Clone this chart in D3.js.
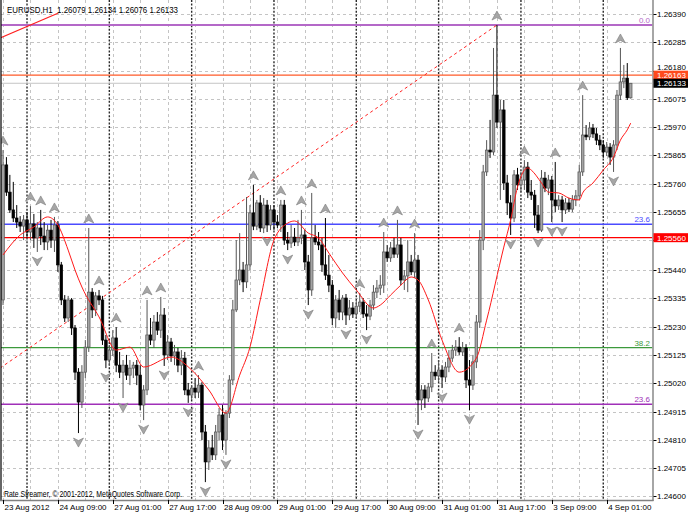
<!DOCTYPE html>
<html><head><meta charset="utf-8">
<script src="https://cdn.jsdelivr.net/npm/d3@7"></script>
<style>
body{margin:0;background:#fff}
svg{display:block}
text{font-family:"Liberation Sans",Arial,sans-serif}
</style>
</head><body>
<svg id="c" width="688" height="516"></svg>
<script>
// ---- data (EURUSD H1, bar index 0 = 23 Aug 2012 17:00) ----
const opens=[1.25329,1.25830,1.25729,1.25663,1.25633,1.25618,1.25603,1.25626,1.25581,1.25611,1.25559,1.25596,1.25566,1.25544,1.25588,1.25551,1.25607,1.25459,1.25329,1.25262,1.25329,1.25225,1.25061,1.24950,1.25061,1.25154,1.25358,1.25292,1.25344,1.25329,1.25180,1.25106,1.25143,1.25188,1.25087,1.25061,1.25087,1.25050,1.25076,1.25087,1.25050,1.24939,1.24995,1.25199,1.25180,1.25247,1.25217,1.25273,1.25125,1.25173,1.25121,1.25136,1.25087,1.25113,1.24995,1.24976,1.25002,1.24987,1.25013,1.24839,1.24728,1.24780,1.24754,1.24839,1.24902,1.24809,1.24909,1.25032,1.25292,1.25403,1.25440,1.25396,1.25459,1.25652,1.25603,1.25689,1.25596,1.25681,1.25607,1.25663,1.25618,1.25607,1.25681,1.25551,1.25540,1.25562,1.25544,1.25559,1.25570,1.25470,1.25366,1.25559,1.25544,1.25533,1.25459,1.25421,1.25384,1.25262,1.25329,1.25284,1.25336,1.25273,1.25299,1.25277,1.25306,1.25321,1.25277,1.25269,1.25310,1.25358,1.25373,1.25384,1.25507,1.25485,1.25522,1.25499,1.25533,1.25403,1.25418,1.25470,1.25433,1.25477,1.24958,1.24995,1.24965,1.25006,1.25061,1.25047,1.25069,1.25043,1.25080,1.25113,1.25143,1.25154,1.25136,1.25151,1.25032,1.25013,1.25099,1.25247,1.25551,1.25804,1.25885,1.25878,1.26089,1.25989,1.26034,1.25763,1.25689,1.25633,1.25793,1.25756,1.25774,1.25822,1.25729,1.25718,1.25644,1.25588,1.25781,1.25744,1.25774,1.25700,1.25678,1.25700,1.25663,1.25689,1.25666,1.25700,1.25715,1.25804,1.25941,1.25934,1.25967,1.25945,1.25922,1.25904,1.25878,1.25896,1.25859,1.25904,1.26089,1.26138,1.26152,1.26079];
const highs=[1.25885,1.25859,1.25793,1.25767,1.25681,1.25640,1.25644,1.25655,1.25677,1.25648,1.25618,1.25663,1.25618,1.25607,1.25626,1.25637,1.25622,1.25470,1.25347,1.25344,1.25336,1.25236,1.25076,1.25087,1.25180,1.25596,1.25373,1.25358,1.25366,1.25344,1.25199,1.25162,1.25217,1.25228,1.25136,1.25106,1.25125,1.25106,1.25099,1.25106,1.25087,1.25013,1.25329,1.25262,1.25273,1.25284,1.25340,1.25299,1.25199,1.25188,1.25162,1.25151,1.25143,1.25136,1.25021,1.25013,1.25039,1.25050,1.25024,1.24865,1.24809,1.24828,1.24865,1.24928,1.24939,1.24920,1.25050,1.25329,1.25551,1.25577,1.25470,1.25711,1.25681,1.25756,1.25700,1.25718,1.25707,1.25700,1.25681,1.25681,1.25644,1.25700,1.25700,1.25581,1.25607,1.25596,1.25626,1.25663,1.25588,1.25496,1.25726,1.25607,1.25581,1.25559,1.25633,1.25496,1.25403,1.25347,1.25366,1.25347,1.25351,1.25329,1.25321,1.25329,1.25355,1.25336,1.25310,1.25329,1.25384,1.25403,1.25421,1.25581,1.25533,1.25544,1.25559,1.25626,1.25559,1.25440,1.25551,1.25496,1.25577,1.25496,1.25013,1.25013,1.25021,1.25132,1.25087,1.25106,1.25087,1.25099,1.25143,1.25162,1.25180,1.25191,1.25173,1.25165,1.25106,1.25125,1.25273,1.25588,1.25830,1.25922,1.25997,1.26264,1.26349,1.26071,1.26071,1.25793,1.25718,1.25811,1.25819,1.25804,1.25848,1.25841,1.25774,1.25737,1.25681,1.25811,1.25804,1.25793,1.25789,1.25841,1.25718,1.25715,1.25707,1.25707,1.25718,1.25737,1.25830,1.26089,1.25978,1.25989,1.25982,1.25967,1.25941,1.25922,1.25915,1.25911,1.25922,1.26108,1.26264,1.26201,1.26208,1.26134];
const lows=[1.25310,1.25715,1.25652,1.25618,1.25596,1.25581,1.25551,1.25559,1.25551,1.25522,1.25507,1.25533,1.25514,1.25514,1.25522,1.25507,1.25433,1.25310,1.25247,1.25247,1.25199,1.25032,1.24835,1.24928,1.25039,1.25136,1.25262,1.25269,1.25310,1.25162,1.25076,1.25084,1.25121,1.25061,1.25039,1.24965,1.25032,1.25013,1.25039,1.25013,1.24920,1.24883,1.24976,1.25162,1.25151,1.25199,1.25188,1.25084,1.25106,1.25099,1.25087,1.25061,1.25050,1.24976,1.24947,1.24958,1.24965,1.24965,1.24809,1.24653,1.24698,1.24735,1.24735,1.24809,1.24772,1.24754,1.24891,1.25013,1.25284,1.25384,1.25358,1.25373,1.25440,1.25588,1.25588,1.25581,1.25577,1.25581,1.25588,1.25588,1.25596,1.25581,1.25533,1.25514,1.25522,1.25529,1.25529,1.25536,1.25440,1.25310,1.25344,1.25533,1.25514,1.25433,1.25403,1.25358,1.25236,1.25225,1.25254,1.25254,1.25236,1.25254,1.25262,1.25262,1.25284,1.25262,1.25217,1.25254,1.25292,1.25336,1.25347,1.25355,1.25470,1.25470,1.25485,1.25485,1.25384,1.25366,1.25358,1.25421,1.25410,1.24865,1.24920,1.24928,1.24950,1.24987,1.25032,1.25024,1.25002,1.25024,1.25061,1.25099,1.25121,1.25125,1.25121,1.25002,1.24920,1.24995,1.25076,1.25225,1.25514,1.25789,1.25856,1.25867,1.25967,1.25700,1.25737,1.25644,1.25570,1.25618,1.25737,1.25729,1.25737,1.25707,1.25700,1.25596,1.25577,1.25581,1.25729,1.25718,1.25618,1.25655,1.25663,1.25618,1.25648,1.25655,1.25655,1.25677,1.25700,1.25789,1.25922,1.25922,1.25930,1.25904,1.25885,1.25856,1.25863,1.25830,1.25804,1.25885,1.26071,1.26115,1.26071,1.26076];
const closes=[1.25830,1.25729,1.25663,1.25633,1.25618,1.25603,1.25626,1.25581,1.25611,1.25559,1.25596,1.25566,1.25544,1.25588,1.25551,1.25607,1.25459,1.25329,1.25262,1.25329,1.25225,1.25061,1.24950,1.25061,1.25154,1.25358,1.25292,1.25344,1.25329,1.25180,1.25106,1.25143,1.25188,1.25087,1.25061,1.25087,1.25050,1.25076,1.25087,1.25050,1.24939,1.24995,1.25199,1.25180,1.25247,1.25217,1.25273,1.25125,1.25173,1.25121,1.25136,1.25087,1.25113,1.24995,1.24976,1.25002,1.24987,1.25013,1.24839,1.24728,1.24780,1.24754,1.24839,1.24902,1.24809,1.24909,1.25032,1.25292,1.25403,1.25440,1.25396,1.25459,1.25652,1.25603,1.25689,1.25596,1.25681,1.25607,1.25663,1.25618,1.25607,1.25681,1.25551,1.25540,1.25562,1.25544,1.25559,1.25570,1.25470,1.25366,1.25559,1.25544,1.25533,1.25459,1.25421,1.25384,1.25262,1.25329,1.25284,1.25336,1.25273,1.25299,1.25277,1.25306,1.25321,1.25277,1.25269,1.25310,1.25358,1.25373,1.25384,1.25507,1.25485,1.25522,1.25499,1.25533,1.25403,1.25418,1.25470,1.25433,1.25477,1.24958,1.24995,1.24965,1.25006,1.25061,1.25047,1.25069,1.25043,1.25080,1.25113,1.25143,1.25154,1.25136,1.25151,1.25032,1.25013,1.25099,1.25247,1.25551,1.25804,1.25885,1.25878,1.26089,1.25989,1.26034,1.25763,1.25689,1.25633,1.25793,1.25756,1.25774,1.25822,1.25729,1.25718,1.25644,1.25588,1.25781,1.25744,1.25774,1.25700,1.25678,1.25700,1.25663,1.25689,1.25666,1.25700,1.25715,1.25804,1.25941,1.25934,1.25967,1.25945,1.25922,1.25904,1.25878,1.25896,1.25859,1.25904,1.26089,1.26138,1.26152,1.26079,1.26133];

// moving average samples (bar index, value)
const maIdx=[0,5,9,13,16,19,21,23,28,33,37,41,49,55,60,65,69,72,75,79,83,85,89,92,95,99,103,108,110,113,116,119,121,124,128,133,138,141,146,148,150,153,154,157,159,162,165,168,169,172,175,178,180,182,183];
const maVal=[1.25496,1.25570,1.25600,1.25637,1.25607,1.25514,1.25440,1.25377,1.25266,1.25143,1.25154,1.25080,1.25117,1.25069,1.24995,1.24909,1.25050,1.25154,1.25329,1.25551,1.25614,1.25622,1.25577,1.25559,1.25503,1.25429,1.25366,1.25299,1.25310,1.25347,1.25384,1.25414,1.25403,1.25329,1.25180,1.25061,1.25113,1.25254,1.25525,1.25626,1.25748,1.25819,1.25811,1.25763,1.25729,1.25726,1.25707,1.25700,1.25726,1.25763,1.25811,1.25859,1.25922,1.25960,1.25985];

// fractals
const fractalUpIdx=[0,8,11,15,25,28,33,42,46,57,73,81,87,90,94,104,111,115,120,125,133,144,152,161,169,180];
const fractalDownIdx=[10,22,30,35,41,47,54,59,65,77,83,89,100,106,121,128,136,148,156,160,163,178];

// price axis ticks ("" = hidden behind a price box)
const priceTicks=[1.26390,1.26285,1.26180,1.26075,1.25970,1.25865,1.25760,1.25655,1.25550,1.25440,1.25335,1.25230,1.25125,1.25020,1.24915,1.24810,1.24705,1.24600];
const priceTickLabels=["1.26390","1.26285","1.26180","1.26075","1.25970","1.25865","1.25760","1.25655","","1.25440","1.25335","1.25230","1.25125","1.25020","1.24915","1.24810","1.24705","1.24600"];

// time axis
const timeIdx=[0,16,32,48,64,80,96,112,128,144,160,176];
const timeLabels=["23 Aug 2012","24 Aug 09:00","27 Aug 01:00","27 Aug 17:00","28 Aug 09:00","29 Aug 01:00","29 Aug 17:00","30 Aug 09:00","31 Aug 01:00","31 Aug 17:00","3 Sep 09:00","4 Sep 01:00"];
const daySepIdx=[7,31,55,79,103,127,151,175];

// horizontal objects
const hLevels=[1.26349,1.26163,1.26133,1.25610,1.25560,1.25152,1.24942];
const hNames=["0.0","","","23.6","","38.2","23.6"];
const hColors=["#b468c8","#ff5a28","#c4c4c4","#4b4bff","#ff0000","#3c9a3c","#a030b8"];
const hWidths=[2,1.2,1,1.6,1.2,1.2,1.6];
const boxLevels=[1.26163,1.26133,1.25560];
const boxLabels=["1.26163","1.26133","1.25560"];
const boxColors=["#ff4a1c","#000000","#ff0000"];

// trend lines (bar index, price)
const dashTrendIdx=[-0.875,144];
const dashTrendPrice=[1.25076,1.26349];
const solidTrendIdx=[-0.875,16];
const solidTrendPrice=[1.26301,1.26393];

const headerText="EURUSD,H1  1.26079 1.26134 1.26076 1.26133";
const copyText="Rate Streamer, \u00a9 2001-2012, MetaQuotes Software Corp.";

// ---- drawing ----
const W=688,H=516, PR=652.5, PB=500;
const x=d3.scaleLinear().domain([0,183]).range([3,630.7]);
const y=d3.scaleLinear().domain([1.24600,1.26390]).range([496.4,14]);
const svg=d3.select('#c');
svg.append('rect').attr('width',W).attr('height',H).attr('fill','#fff');
svg.append('clipPath').attr('id','clip').append('rect').attr('x',1).attr('y',0).attr('width',PR-1).attr('height',PB);
const g=svg.append('g').attr('clip-path','url(#clip)');

// grid
g.selectAll('line.hg').data(priceTicks).join('line')
 .attr('x1',1).attr('x2',PR).attr('y1',d=>Math.round(y(d))+0.5).attr('y2',d=>Math.round(y(d))+0.5)
 .attr('stroke','#c4c4c4').attr('stroke-dasharray','3,3').attr('stroke-width',1);
g.selectAll('line.vg').data(d3.range(0,184,8)).join('line')
 .attr('x1',d=>Math.round(x(d))+0.5).attr('x2',d=>Math.round(x(d))+0.5).attr('y1',0).attr('y2',PB)
 .attr('stroke','#c4c4c4').attr('stroke-dasharray','3,3').attr('stroke-width',1);
g.selectAll('line.ds').data(daySepIdx).join('line')
 .attr('x1',d=>x(d)).attr('x2',d=>x(d)).attr('y1',0).attr('y2',PB)
 .attr('stroke','#2a2a2a').attr('stroke-dasharray','2,1.6').attr('stroke-width',1.4);

// horizontal lines
g.selectAll('line.hl').data(hLevels).join('line')
 .attr('x1',1).attr('x2',PR).attr('y1',d=>y(d)).attr('y2',d=>y(d))
 .attr('stroke',(d,i)=>hColors[i]).attr('stroke-width',(d,i)=>hWidths[i]);
g.selectAll('text.hn').data(hLevels).join('text')
 .attr('x',650).attr('y',d=>y(d)-2).attr('text-anchor','end')
 .attr('font-size',8).attr('fill',(d,i)=>hColors[i]).text((d,i)=>hNames[i]);

// trend lines
const tl=d3.line().x(d=>x(d[0])).y(d=>y(d[1]));
g.append('path').attr('d',tl(d3.zip(dashTrendIdx,dashTrendPrice)))
 .attr('stroke','#ff2020').attr('stroke-width',1).attr('stroke-dasharray','3,3').attr('fill','none');
g.append('path').attr('d',tl(d3.zip(solidTrendIdx,solidTrendPrice)))
 .attr('stroke','#ff2020').attr('stroke-width',1.2).attr('fill','none');

// candles
const bars=d3.range(opens.length).map(i=>({i,o:opens[i],h:highs[i],l:lows[i],c:closes[i]}));
const bw=2.6;
const cg=g.append('g');
cg.selectAll('line.w').data(bars).join('line')
 .attr('x1',d=>x(d.i)).attr('x2',d=>x(d.i)).attr('y1',d=>y(d.h)).attr('y2',d=>y(d.l))
 .attr('stroke',d=>d.c>=d.o?'#555':'#000').attr('stroke-width',1);
cg.selectAll('rect.b').data(bars).join('rect')
 .attr('x',d=>x(d.i)-bw/2).attr('width',bw)
 .attr('y',d=>y(Math.max(d.o,d.c))).attr('height',d=>Math.max(1,Math.abs(y(d.o)-y(d.c))))
 .attr('fill',d=>d.c>=d.o?'#a4a4a4':'#000').attr('stroke',d=>d.c>=d.o?'#555':'#000').attr('stroke-width',0.7);

// MA
g.append('path').attr('d',d3.line().x(d=>x(d[0])).y(d=>y(d[1])).curve(d3.curveMonotoneX)(d3.zip(maIdx,maVal)))
 .attr('stroke','#ff1a1a').attr('stroke-width',1).attr('fill','none');

// fractals
const upPath="M0,-5 L5,4 L0,1.5 L-5,4 Z", dnPath="M0,5 L5,-4 L0,-1.5 L-5,-4 Z";
g.selectAll('path.fu').data(fractalUpIdx).join('path')
 .attr('d',upPath).attr('transform',d=>`translate(${x(d)},${y(highs[d])-9})`)
 .attr('fill','#a6a6a6').attr('stroke','#7c7c7c').attr('stroke-width',0.6);
g.selectAll('path.fd').data(fractalDownIdx).join('path')
 .attr('d',dnPath).attr('transform',d=>`translate(${x(d)},${y(lows[d])+9})`)
 .attr('fill','#a6a6a6').attr('stroke','#7c7c7c').attr('stroke-width',0.6);

// texts in plot
svg.append('text').attr('x',7).attr('y',13).attr('font-size',8.6).attr('fill','#000')
 .attr('textLength',171).attr('lengthAdjust','spacingAndGlyphs').style('white-space','pre').text(headerText);
svg.append('text').attr('x',4).attr('y',497).attr('font-size',8.4).attr('fill','#000')
 .attr('textLength',178).attr('lengthAdjust','spacingAndGlyphs').text(copyText);

// frame / axes
svg.append('line').attr('x1',1).attr('x2',1).attr('y1',0).attr('y2',PB).attr('stroke','#000').attr('stroke-width',1.2);
svg.append('line').attr('x1',PR+0.5).attr('x2',PR+0.5).attr('y1',0).attr('y2',PB+1).attr('stroke','#808080').attr('stroke-width',1.4);
svg.append('line').attr('x1',0).attr('x2',PR+1).attr('y1',PB+0.5).attr('y2',PB+0.5).attr('stroke','#808080').attr('stroke-width',1.4);

// price ticks (label just above the box when a price box covers the tick)
const boxTop=y(boxLevels[0])-4.5;
svg.selectAll('line.pt').data(priceTicks).join('line')
 .attr('x1',PR+1).attr('x2',PR+4).attr('y1',d=>Math.round(y(d))+0.5).attr('y2',d=>Math.round(y(d))+0.5).attr('stroke','#000');
svg.selectAll('text.pt').data(priceTicks).join('text')
 .attr('x',657).attr('y',d=>Math.min(y(d)+3, Math.abs(y(d)-boxTop)<6? boxTop-0.5 : 999))
 .attr('font-size',8).attr('fill','#000').text((d,i)=>priceTickLabels[i]);

// price boxes
const bxg=svg.append('g');
bxg.selectAll('rect').data(boxLevels).join('rect')
 .attr('x',PR+1).attr('width',W-PR).attr('y',d=>y(d)-4.5).attr('height',9).attr('fill',(d,i)=>boxColors[i]);
bxg.selectAll('text').data(boxLevels).join('text')
 .attr('x',657).attr('y',d=>y(d)+3).attr('font-size',8).attr('fill','#fff').text((d,i)=>boxLabels[i]);

// time ticks
svg.selectAll('line.tt').data(timeIdx).join('line')
 .attr('x1',d=>Math.round(x(d))+0.5).attr('x2',d=>Math.round(x(d))+0.5).attr('y1',PB).attr('y2',PB+4).attr('stroke','#000');
svg.selectAll('text.tt').data(timeIdx).join('text')
 .attr('x',d=>x(d)+1.5).attr('y',510).attr('font-size',8).attr('fill','#000').text((d,i)=>timeLabels[i]);
</script>
</body></html>
